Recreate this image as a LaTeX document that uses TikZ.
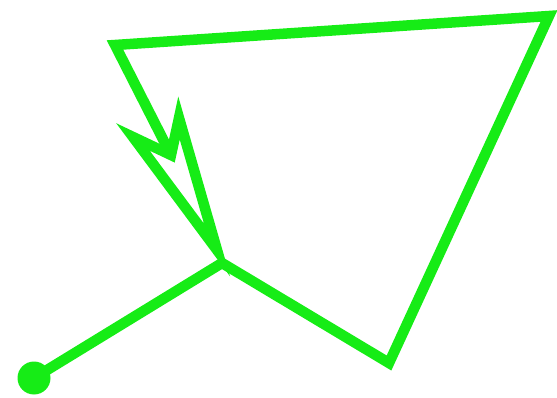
\documentclass[tikz,border=0pt]{standalone}
\definecolor{lgreen}{RGB}{22,236,22}
\begin{document}
\begin{tikzpicture}[x=1pt,y=-1pt,
  wire/.style={draw=lgreen,line width=10.5pt,line join=miter,miter limit=12},
  dotnode/.style={circle,fill=lgreen,inner sep=0pt,minimum size=33pt}]
\useasboundingbox (0,0) rectangle (557,398);
\node[dotnode] (s) at (34,378) {};
\coordinate (j) at (222,263);
\coordinate (b) at (389,363);
\coordinate (tr) at (549,16);
\coordinate (tl) at (115,45);
\coordinate (notch) at (171,155);
\coordinate (lb) at (133,137);
\coordinate (tip) at (217,250);
\coordinate (rb) at (179,118);
\draw[wire] (s.center) -- (j) -- (b) -- (tr) -- (tl) -- (notch);
\draw[wire] (notch) -- (lb) -- (tip) -- (rb) -- cycle;
\end{tikzpicture}
\end{document}
